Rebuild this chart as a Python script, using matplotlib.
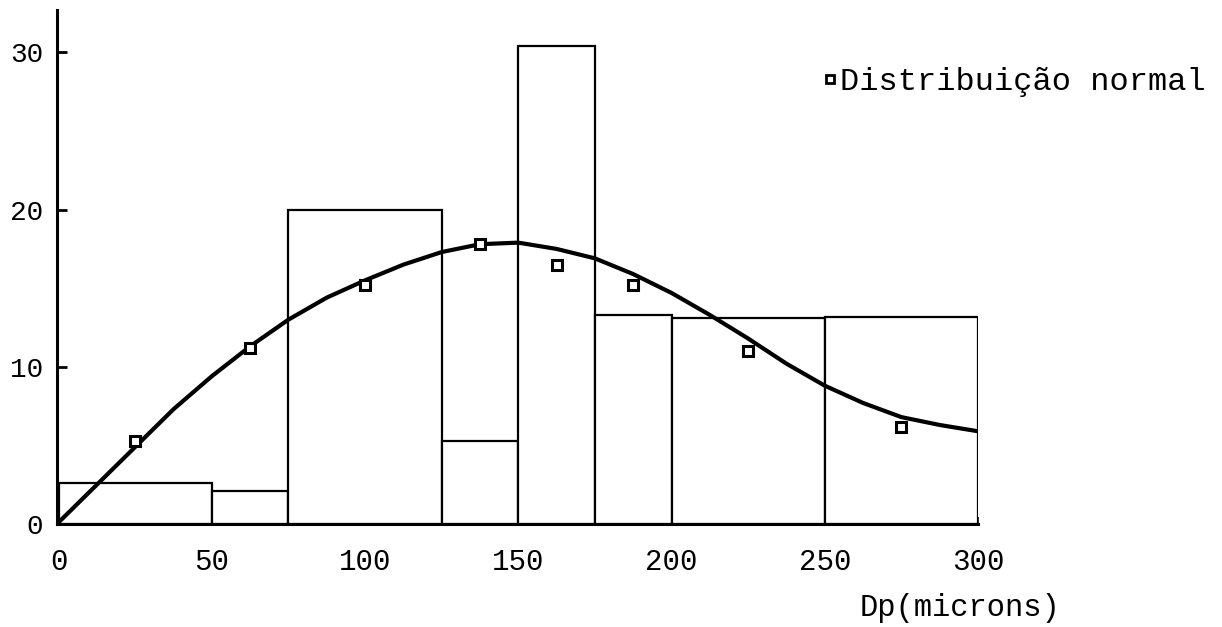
import matplotlib
matplotlib.use("Agg")
import matplotlib.pyplot as plt
from matplotlib.lines import Line2D

# Histogram bins (Dp, microns) and heights
bin_edges = [0, 50, 75, 125, 150, 175, 200, 250, 300]
bar_heights = [2.6, 2.1, 20.0, 5.3, 30.4, 13.3, 13.1, 13.2]

# Normal-distribution points (at bin mid-points)
point_x = [25, 62.5, 100, 137.5, 162.5, 187.5, 225, 275]
point_y = [5.3, 11.2, 15.2, 17.8, 16.5, 15.2, 11.0, 6.2]

# Smooth curve
curve_x = [0, 6.25, 12.5, 25, 37.5, 50, 62.5, 75, 87.5, 100, 112.5, 125, 137.5, 150,
           162.5, 175, 187.5, 200, 212.5, 225, 237.5, 250, 262.5, 275, 287.5, 300]
curve_y = [0.1, 1.3, 2.5, 4.9, 7.3, 9.4, 11.3, 13.0, 14.4, 15.5, 16.5, 17.3, 17.8, 17.9,
           17.5, 16.9, 15.9, 14.7, 13.3, 11.8, 10.2, 8.8, 7.7, 6.8, 6.3, 5.9]

x_ticks = [0, 50, 100, 150, 200, 250, 300]
y_ticks = [0, 10, 20, 30]

FONT = "Liberation Mono"
plt.rcParams['font.family'] = [FONT, 'DejaVu Sans']

fig = plt.figure(figsize=(12.22, 6.27), dpi=100)
ax = fig.add_axes([57 / 1222, (627 - 524) / 627, (978 - 57) / 1222, (524 - 10) / 627])

lefts = bin_edges[:-1]
widths = [b - a for a, b in zip(bin_edges[:-1], bin_edges[1:])]
ax.bar(lefts, bar_heights, width=widths, align='edge', facecolor='white',
       edgecolor='black', linewidth=1.6, zorder=2)

ax.plot(curve_x, curve_y, color='black', linewidth=3.0, zorder=3,
        solid_capstyle='round', solid_joinstyle='round')
ax.plot(point_x, point_y, linestyle='none', marker='s', markersize=7,
        markerfacecolor='white', markeredgecolor='black', markeredgewidth=2.2,
        zorder=4)

ax.set_xlim(-0.5, 300)
ax.set_ylim(0, 32.7)

for s in ['top', 'right']:
    ax.spines[s].set_visible(False)
for s in ['left', 'bottom']:
    ax.spines[s].set_linewidth(2.2)

ax.set_xticks(x_ticks)
ax.set_yticks(y_ticks)
ax.tick_params(axis='y', direction='in', length=7, width=2, pad=10, labelsize=20)
ax.tick_params(axis='x', direction='in', length=5, width=1.2, pad=17, labelsize=21)

handle = Line2D([], [], linestyle='none', marker='s', markersize=6,
                markerfacecolor='white', markeredgecolor='black', markeredgewidth=2)
fig.legend([handle], ['Distribuição normal'], loc='center left',
           bbox_to_anchor=(822 / 1222, 1 - 82 / 627), frameon=False,
           handlelength=0.5, handletextpad=0.05, borderpad=0, borderaxespad=0,
           prop={'family': FONT, 'size': 23})

fig.text(960 / 1222, 1 - 608 / 627, 'Dp(microns)', ha='center', va='center',
         fontsize=22, family=FONT)

fig.savefig('out.png', dpi=100, facecolor='white')
